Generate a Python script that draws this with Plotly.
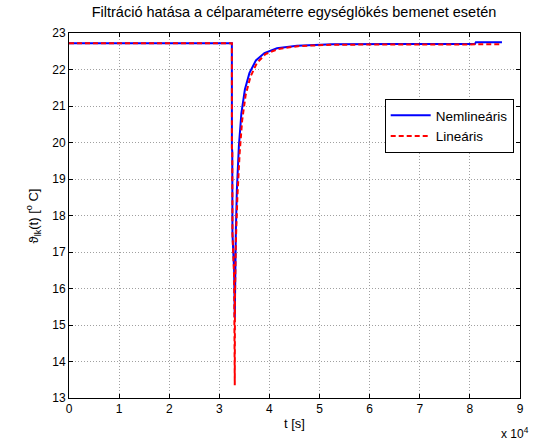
import plotly.graph_objects as go

# Time (s) and temperature (°C)
t_nonlin = [0, 32500, 32510, 32580, 32620, 32950, 33080, 33150, 33300, 33500,
            33900, 34400, 35100, 36000, 37300, 39000, 41500, 45500, 52500,
            65000, 81000, 81200, 86400]
v_nonlin = [22.72, 22.72, 19.85, 19.75, 17.5, 16.5, 15.2, 16.5, 17.6, 18.7,
            19.9, 20.8, 21.45, 21.9, 22.25, 22.45, 22.58, 22.65, 22.69,
            22.70, 22.70, 22.75, 22.75]

t_lin = [0, 32500, 32510, 32580, 32620, 32950, 33080, 33120, 33300, 33600,
         34050, 34550, 35250, 36200, 37500, 39200, 41700, 45700, 52500,
         65000, 86400]
v_lin = [22.72, 22.72, 19.85, 19.75, 17.5, 16.3, 13.35, 15.8, 17.3, 18.5,
         19.7, 20.6, 21.3, 21.8, 22.18, 22.42, 22.56, 22.64, 22.68,
         22.69, 22.69]

x_ticks = [0, 10000, 20000, 30000, 40000, 50000, 60000, 70000, 80000, 90000]
x_ticktext = ["0", "1", "2", "3", "4", "5", "6", "7", "8", "9"]
y_ticks = list(range(13, 24))

FONT = "Liberation Sans, Arial, Helvetica, sans-serif"

fig = go.Figure()
fig.add_trace(go.Scatter(x=t_nonlin, y=v_nonlin, mode="lines", name="Nemlineáris",
                         line=dict(color="#0000FF", width=2)))
fig.add_trace(go.Scatter(x=t_lin, y=v_lin, mode="lines", name="Lineáris",
                         line=dict(color="#FF0000", width=2, dash="5px,3px")))

axis_common = dict(showline=True, linecolor="black", linewidth=1, mirror="ticks",
                   ticks="inside", ticklen=4, tickcolor="black",
                   showgrid=True, gridcolor="#a0a0a0", griddash="1px,2px", gridwidth=1,
                   zeroline=False, tickfont=dict(size=12, color="black", family=FONT))

fig.update_xaxes(range=[0, 90000], tickvals=x_ticks, ticktext=x_ticktext, **axis_common)
fig.update_yaxes(range=[13, 23], tickvals=y_ticks, **axis_common)

fig.update_layout(
    width=536, height=442,
    margin=dict(l=69, r=16, t=33, b=44),
    paper_bgcolor="white", plot_bgcolor="white",
    font=dict(family=FONT, size=12, color="black"),
    title=dict(text="Filtráció hatása a célparaméterre egységlökés bemenet esetén",
               x=294 / 536, xanchor="center", y=1 - 12 / 442, yanchor="middle",
               font=dict(size=14.5, family=FONT, color="black")),
    showlegend=True,
    legend=dict(x=0.70, y=0.819, xanchor="left", yanchor="top",
                bgcolor="white", bordercolor="black", borderwidth=1,
                font=dict(size=13.5, family=FONT, color="black"),
                itemwidth=40, tracegroupgap=0),
    annotations=[
        dict(text="t [s]", xref="paper", yref="paper", x=0.5, y=-0.071,
             xanchor="center", yanchor="middle", showarrow=False,
             font=dict(size=13, family=FONT)),
        dict(text="x 10<sup>4</sup>", xref="paper", yref="paper", x=0.99, y=-0.096,
             xanchor="center", yanchor="middle", showarrow=False,
             font=dict(size=12, family=FONT)),
        dict(text="ϑ<sub>lk</sub>(t) [<sup>o</sup> C]", xref="paper", yref="paper",
             x=-0.08, y=0.5, xanchor="center", yanchor="middle", textangle=-90,
             showarrow=False, font=dict(size=13, family=FONT)),
    ],
)

fig.write_html("out.html")
